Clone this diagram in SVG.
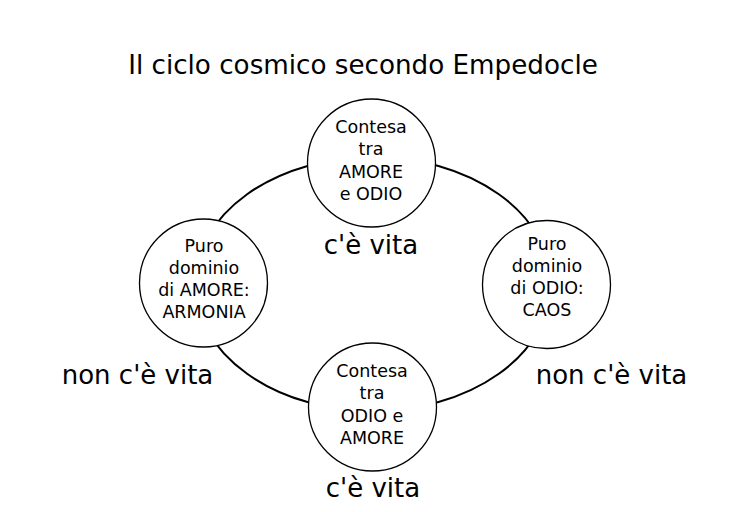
<svg xmlns="http://www.w3.org/2000/svg" width="731" height="512" viewBox="0 0 731 512">
<style>
text{font-family:"DejaVu Sans","Liberation Sans",sans-serif;fill:#000;text-anchor:middle}
.t{font-size:26.2px}
.n{font-size:17.5px}
.big{font-size:26px}
.node{fill:#fff;stroke:#000;stroke-width:1.3}
.edge{fill:none;stroke:#000;stroke-width:2}
</style>
<rect width="731" height="512" fill="#fff"/>
<text class="t" x="363" y="73.5">Il ciclo cosmico secondo Empedocle</text>
<g id="connectors">
<ellipse class="edge" cx="373" cy="284" rx="178" ry="127"/>
</g>
<g id="top">
<circle class="node" cx="371.5" cy="163" r="64"/>
<text class="n" x="371" y="133">Contesa</text>
<text class="n" x="371" y="155">tra</text>
<text class="n" x="371" y="177.5">AMORE</text>
<text class="n" x="371" y="199.5">e ODIO</text>
</g>
<g id="left">
<circle class="node" cx="203.5" cy="283" r="64"/>
<text class="n" x="204" y="251.5">Puro</text>
<text class="n" x="204" y="273.5">dominio</text>
<text class="n" x="204" y="296">di AMORE:</text>
<text class="n" x="204" y="318">ARMONIA</text>
</g>
<g id="right">
<circle class="node" cx="546.5" cy="284.5" r="64"/>
<text class="n" x="547" y="249.5">Puro</text>
<text class="n" x="547" y="271.5">dominio</text>
<text class="n" x="547" y="293.5">di ODIO:</text>
<text class="n" x="547" y="316">CAOS</text>
</g>
<g id="bottom">
<circle class="node" cx="372.5" cy="407" r="64"/>
<text class="n" x="372" y="377">Contesa</text>
<text class="n" x="372" y="399">tra</text>
<text class="n" x="372" y="421.5">ODIO e</text>
<text class="n" x="372" y="443.5">AMORE</text>
</g>
<g id="labels">
<text class="big" x="371" y="254">c'è vita</text>
<text class="big" x="373" y="497">c'è vita</text>
<text class="big" x="137.5" y="384">non c'è vita</text>
<text class="big" x="611.5" y="384">non c'è vita</text>
</g>
</svg>
